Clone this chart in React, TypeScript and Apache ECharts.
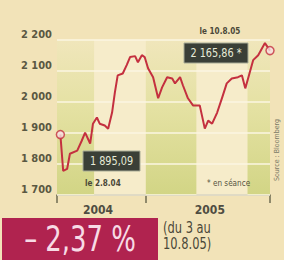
import React, { useEffect, useRef } from 'react';
import * as echarts from 'echarts';

const dates = [
  '2004-08-02', '2004-08-07', '2004-08-14', '2004-08-19', '2004-09-01', '2004-09-09',
  '2004-09-15', '2004-09-24', '2004-09-29', '2004-10-06', '2004-10-11', '2004-10-20',
  '2004-10-26', '2004-11-02', '2004-11-07', '2004-11-12', '2004-11-21', '2004-11-28',
  '2004-12-04', '2004-12-13', '2004-12-18', '2004-12-25', '2004-12-30', '2005-01-05',
  '2005-01-14', '2005-01-23', '2005-01-30', '2005-02-08', '2005-02-17', '2005-02-22',
  '2005-03-03', '2005-03-08', '2005-03-17', '2005-03-26', '2005-04-07', '2005-04-16',
  '2005-04-22', '2005-04-29', '2005-05-08', '2005-05-17', '2005-05-25', '2005-06-03',
  '2005-06-14', '2005-06-21', '2005-06-27', '2005-07-02', '2005-07-11', '2005-07-20',
  '2005-08-01', '2005-08-10',
];
const values = [
  1895, 1778, 1784, 1833, 1843, 1875,
  1901, 1866, 1930, 1950, 1930, 1924,
  1914, 1966, 2031, 2086, 2092, 2119,
  2145, 2148, 2128, 2151, 2145, 2109,
  2080, 2012, 2047, 2080, 2076, 2060,
  2080, 2054, 2012, 1989, 1989, 1914,
  1940, 1930, 1966, 2015, 2060, 2076,
  2080, 2086, 2044, 2076, 2135, 2151,
  2190, 2165.86,
];
const axisStart = '2004-07-27';
const axisEnd = '2005-08-10';
const yearStart = '2005-01-01';
const yearLabels = ['2004', '2005'];
const yearLabelDates = ['2004-10-08', '2005-04-25'];
const greenBands = [
  ['2004-07-27', '2004-10-01'],
  ['2005-01-01', '2005-04-01'],
  ['2005-07-01', '2005-08-10'],
];
const yMin = 1700;
const yMax = 2200;
const yStep = 100;
const lowLabel = '1 895,09';
const lowDate = 'le 2.8.04';
const highLabel = '2 165,86 *';
const highDate = 'le 10.8.05';
const noteText = '* en séance';
const changeText = '– 2,37 %';
const periodLines = ['(du 3 au', '10.8.05)'];
const sourceText = 'Source : Bloomberg';

const NARROW = "'Liberation Sans Narrow', 'DejaVu Sans Condensed', 'Liberation Sans', sans-serif";

function ts(s: string): number {
  const [y, m, d] = s.split('-').map(Number);
  return new Date(y, m - 1, d).getTime();
}

function fmtThousands(v: number): string {
  return String(v).replace(/\B(?=(\d{3})+(?!\d))/g, ' ');
}

export default function App() {
  const ref = useRef<HTMLDivElement>(null);
  useEffect(() => {
    const chart = echarts.init(ref.current!, null, { renderer: 'svg' });
    const lineData = dates.map((d, i) => [ts(d), values[i]]);
    const ends = [lineData[0], lineData[lineData.length - 1]];
    const greenGrad = new echarts.graphic.LinearGradient(0, 0, 0, 1, [
      { offset: 0, color: '#f0e6bb' },
      { offset: 0.45, color: '#e4e1a2' },
      { offset: 1, color: '#d2d585' },
    ]);
    const labelTs = yearLabelDates.map(ts);
    chart.setOption({
      animation: false,
      backgroundColor: '#f2e3b8',
      grid: {
        left: 57,
        right: 14,
        top: 40,
        bottom: 65,
        show: true,
        backgroundColor: '#f6ecca',
        borderWidth: 0,
      },
      xAxis: {
        type: 'value',
        min: ts(axisStart),
        max: ts(axisEnd),
        axisLine: { show: true, lineStyle: { color: '#6e6b52', width: 1.5 } },
        axisTick: {
          show: true,
          length: 8,
          lineStyle: { color: '#6e6b52', width: 1.5 },
          customValues: [ts(axisStart), ts(yearStart), ts(axisEnd)],
        },
        axisLabel: {
          customValues: labelTs,
          formatter: (v: number) => {
            const i = labelTs.indexOf(v);
            return i >= 0 ? yearLabels[i] : '';
          },
          margin: 9,
          color: '#4f4d42',
          fontFamily: NARROW,
          fontWeight: 'bold',
          fontSize: 12,
        },
        splitLine: { show: false },
      },
      yAxis: {
        type: 'value',
        min: yMin,
        max: yMax,
        interval: yStep,
        z: 2,
        axisLine: { show: false },
        axisTick: { show: false },
        splitLine: { show: true, lineStyle: { color: '#fbf6e2', width: 1.5 } },
        axisLabel: {
          formatter: (v: number) => fmtThousands(v),
          verticalAlign: 'bottom',
          margin: 5,
          color: '#5a5842',
          fontFamily: NARROW,
          fontWeight: 'bold',
          fontSize: 11,
        },
      },
      series: [
        {
          type: 'line',
          data: lineData,
          z: 5,
          showSymbol: false,
          symbol: 'none',
          lineStyle: { color: '#c4303f', width: 2 },
          markArea: {
            silent: true,
            z: 1,
            itemStyle: { color: greenGrad },
            data: greenBands.map(([a, b]) => [{ xAxis: ts(a) }, { xAxis: ts(b) }]),
          },
        },
        {
          type: 'scatter',
          data: ends,
          z: 6,
          symbol: 'circle',
          symbolSize: 8,
          itemStyle: { color: '#f5dfe0', borderColor: '#c4303f', borderWidth: 1.5 },
        },
      ],
      graphic: [
        {
          type: 'rect',
          shape: { x: 83, y: 151, width: 57, height: 20 },
          style: { fill: '#3a3f37', stroke: '#a7ab96', lineWidth: 1 },
          z: 20,
        },
        {
          type: 'text',
          x: 111.5,
          y: 161,
          scaleX: 0.9,
          style: { text: lowLabel, fill: '#e7ebd8', font: `12px ${NARROW}`, align: 'center', verticalAlign: 'middle' },
          z: 21,
        },
        {
          type: 'text',
          x: 85,
          y: 183,
          scaleX: 0.9,
          style: { text: lowDate, fill: '#4a4838', font: `bold 9px ${NARROW}`, align: 'left', verticalAlign: 'middle' },
          z: 21,
        },
        {
          type: 'rect',
          shape: { x: 184, y: 43, width: 64, height: 20 },
          style: { fill: '#3a3f37', stroke: '#a7ab96', lineWidth: 1 },
          z: 20,
        },
        {
          type: 'text',
          x: 216,
          y: 53,
          scaleX: 0.9,
          style: { text: highLabel, fill: '#e7ebd8', font: `12px ${NARROW}`, align: 'center', verticalAlign: 'middle' },
          z: 21,
        },
        {
          type: 'text',
          x: 220,
          y: 31,
          scaleX: 0.9,
          style: { text: highDate, fill: '#4a4838', font: `bold 9px ${NARROW}`, align: 'center', verticalAlign: 'middle' },
          z: 21,
        },
        {
          type: 'text',
          x: 207,
          y: 183,
          scaleX: 0.9,
          style: { text: noteText, fill: '#55533f', font: `9px ${NARROW}`, align: 'left', verticalAlign: 'middle' },
          z: 21,
        },
        {
          type: 'text',
          x: 277,
          y: 150,
          rotation: Math.PI / 2,
          style: { text: sourceText, fill: '#7a7866', font: `7px ${NARROW}`, align: 'center', verticalAlign: 'middle' },
          z: 21,
        },
        {
          type: 'rect',
          shape: { x: 2, y: 218, width: 156, height: 42 },
          style: { fill: '#b0234f' },
          z: 20,
        },
        {
          type: 'text',
          x: 80,
          y: 239,
          scaleX: 0.8,
          style: { text: changeText, fill: '#f7dbe5', font: `36px ${NARROW}`, align: 'center', verticalAlign: 'middle' },
          z: 21,
        },
        {
          type: 'text',
          x: 163,
          y: 228,
          scaleX: 0.85,
          style: { text: periodLines[0], fill: '#4a4838', font: `15px ${NARROW}`, align: 'left', verticalAlign: 'middle' },
          z: 21,
        },
        {
          type: 'text',
          x: 163,
          y: 244,
          scaleX: 0.85,
          style: { text: periodLines[1], fill: '#4a4838', font: `15px ${NARROW}`, align: 'left', verticalAlign: 'middle' },
          z: 21,
        },
      ],
    });
    return () => chart.dispose();
  }, []);
  return (
    <div
      ref={ref}
      style={{ position: 'fixed', left: 0, top: 0, width: 284, height: 260, background: '#f2e3b8' }}
    />
  );
}
